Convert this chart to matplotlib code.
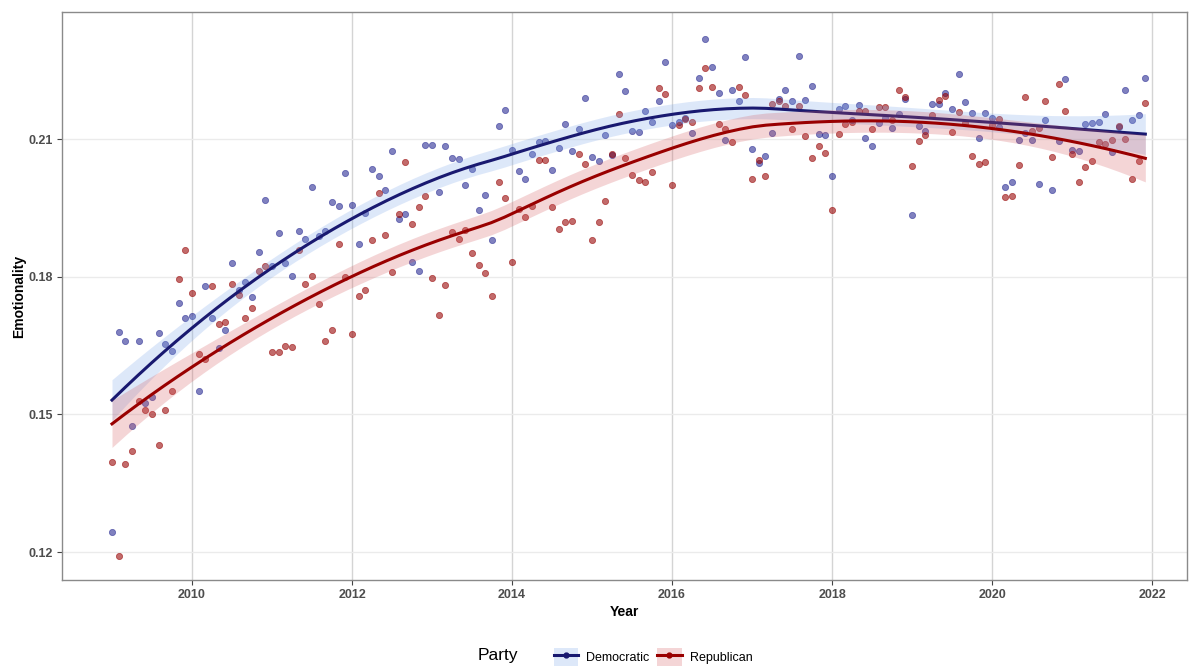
import numpy as np
import pandas as pd
import matplotlib
matplotlib.use("Agg")
import matplotlib.pyplot as plt
from matplotlib.patches import Patch
from matplotlib.lines import Line2D

plt.rcParams['font.family'] = ['Liberation Sans', 'DejaVu Sans']

# monthly emotionality scores, Jan 2009 .. Dec 2021 (one row per year)
dem_values = [
    0.1243, 0.1680, 0.1659, 0.1474, 0.1660, 0.1524, 0.1537, 0.1678, 0.1653, 0.1638, 0.1743, 0.1711,
    0.1715, 0.1551, 0.1780, 0.1710, 0.1645, 0.1684, 0.1830, 0.1771, 0.1788, 0.1756, 0.1853, 0.1968,
    0.1824, 0.1896, 0.1830, 0.1801, 0.1900, 0.1883, 0.1996, 0.1888, 0.1900, 0.1962, 0.1955, 0.2027,
    0.1956, 0.1871, 0.1938, 0.2035, 0.2020, 0.1990, 0.2073, 0.1926, 0.1937, 0.1833, 0.1813, 0.2088,
    0.2088, 0.1985, 0.2085, 0.2059, 0.2057, 0.1999, 0.2035, 0.1946, 0.1979, 0.1881, 0.2128, 0.2163,
    0.2077, 0.2030, 0.2013, 0.2067, 0.2094, 0.2096, 0.2032, 0.2080, 0.2132, 0.2075, 0.2121, 0.2190,
    0.2061, 0.2052, 0.2110, 0.2066, 0.2242, 0.2204, 0.2117, 0.2115, 0.2161, 0.2138, 0.2184, 0.2268,
    0.2131, 0.2138, 0.2147, 0.2113, 0.2234, 0.2319, 0.2258, 0.2201, 0.2099, 0.2208, 0.2182, 0.2279,
    0.2078, 0.2047, 0.2064, 0.2113, 0.2188, 0.2207, 0.2184, 0.2282, 0.2185, 0.2216, 0.2111, 0.2108,
    0.2019, 0.2165, 0.2172, 0.2141, 0.2174, 0.2102, 0.2085, 0.2136, 0.2146, 0.2125, 0.2154, 0.2188,
    0.1935, 0.2128, 0.2118, 0.2177, 0.2177, 0.2200, 0.2165, 0.2242, 0.2181, 0.2157, 0.2103, 0.2157,
    0.2146, 0.2127, 0.1995, 0.2007, 0.2098, 0.2114, 0.2097, 0.2003, 0.2142, 0.1989, 0.2096, 0.2230,
    0.2077, 0.2075, 0.2133, 0.2136, 0.2137, 0.2155, 0.2072, 0.2126, 0.2207, 0.2141, 0.2153, 0.2234,
]
rep_values = [
    0.1397, 0.1191, 0.1391, 0.1421, 0.1530, 0.1509, 0.1500, 0.1434, 0.1509, 0.1551, 0.1794, 0.1859,
    0.1765, 0.1631, 0.1620, 0.1780, 0.1696, 0.1701, 0.1784, 0.1761, 0.1709, 0.1732, 0.1812, 0.1824,
    0.1637, 0.1637, 0.1649, 0.1646, 0.1859, 0.1785, 0.1801, 0.1740, 0.1659, 0.1683, 0.1871, 0.1799,
    0.1676, 0.1758, 0.1772, 0.1880, 0.1982, 0.1890, 0.1810, 0.1937, 0.2049, 0.1915, 0.1953, 0.1976,
    0.1797, 0.1717, 0.1783, 0.1898, 0.1883, 0.1902, 0.1851, 0.1825, 0.1809, 0.1758, 0.2006, 0.1971,
    0.1833, 0.1948, 0.1931, 0.1955, 0.2054, 0.2055, 0.1951, 0.1904, 0.1919, 0.1921, 0.2068, 0.2045,
    0.1879, 0.1919, 0.1965, 0.2067, 0.2155, 0.2059, 0.2022, 0.2010, 0.2006, 0.2028, 0.2212, 0.2199,
    0.2001, 0.2131, 0.2144, 0.2137, 0.2212, 0.2254, 0.2213, 0.2132, 0.2123, 0.2094, 0.2213, 0.2197,
    0.2012, 0.2054, 0.2019, 0.2176, 0.2182, 0.2173, 0.2122, 0.2172, 0.2106, 0.2058, 0.2085, 0.2069,
    0.1945, 0.2112, 0.2133, 0.2137, 0.2161, 0.2161, 0.2122, 0.2169, 0.2169, 0.2141, 0.2207, 0.2192,
    0.2042, 0.2096, 0.2109, 0.2152, 0.2186, 0.2195, 0.2116, 0.2159, 0.2134, 0.2064, 0.2046, 0.2050,
    0.2131, 0.2143, 0.1973, 0.1975, 0.2044, 0.2191, 0.2118, 0.2125, 0.2182, 0.2061, 0.2220, 0.2162,
    0.2068, 0.2006, 0.2040, 0.2052, 0.2093, 0.2089, 0.2098, 0.2128, 0.2101, 0.2014, 0.2052, 0.2178,
]
parties = ["Democratic", "Republican"]
x_ticks = [2010, 2012, 2014, 2016, 2018, 2020, 2022]
y_ticks = [0.12, 0.15, 0.18, 0.21]

months = pd.date_range("2009-01-01", "2021-12-01", freq="MS")
t = (months.year + (months.month - 1) / 12).to_numpy(dtype=float)


def loess(x, y, grid, span=0.75):
    """Local quadratic fit with tricube weights, plus pointwise std errors."""
    n = len(x)
    q = int(np.floor(n * span))

    def rows(points):
        out = np.zeros((len(points), n))
        for i, x0 in enumerate(points):
            d = np.abs(x - x0)
            h = np.sort(d)[q - 1]
            w = np.clip(1 - (d / h) ** 3, 0, None) ** 3
            X = np.column_stack([np.ones(n), x - x0, (x - x0) ** 2])
            XtW = X.T * w
            out[i] = np.linalg.solve(XtW @ X, XtW)[0]
        return out

    L = rows(x)
    resid = y - L @ y
    M = np.eye(n) - L
    delta1 = np.trace(M.T @ M)
    sigma = np.sqrt(np.sum(resid ** 2) / delta1)
    Lg = rows(grid)
    fit = Lg @ y
    se = sigma * np.sqrt(np.sum(Lg ** 2, axis=1))
    return fit, se


fig, ax = plt.subplots(figsize=(11.98, 6.66), dpi=100)
fig.subplots_adjust(left=62 / 1198, right=1187 / 1198, top=1 - 12 / 666, bottom=1 - 580 / 666)

point_cols = {"Democratic": "#242791", "Republican": "#960000"}
line_cols = {"Democratic": "#191970", "Republican": "#990000"}
band_cols = {"Democratic": "#7aa5ea", "Republican": "#d45a5e"}

grid = np.linspace(t.min(), t.max(), 80)
series = {"Democratic": np.array(dem_values), "Republican": np.array(rep_values)}

for party in parties:
    c = point_cols[party]
    ax.scatter(t, series[party], s=20, facecolor=c, edgecolor=c, alpha=0.58,
               linewidths=0.6, zorder=2)

z = 3
for party in parties:
    fit, se = loess(t, series[party], grid)
    ax.fill_between(grid, fit - 1.976 * se, fit + 1.976 * se, color=band_cols[party],
                    alpha=0.25, lw=0, zorder=z)
    ax.plot(grid, fit, color=line_cols[party], lw=2.2, zorder=z + 1)
    z += 2

ax.set_xlim(2008.375, 2022.4375)
ax.set_ylim(0.1139, 0.2377)
ax.set_xticks(x_ticks)
ax.set_xticklabels([str(v) for v in x_ticks])
ax.set_yticks(y_ticks)
ax.set_yticklabels([f"{v:.2f}" for v in y_ticks])

for xv in x_ticks:
    ax.axvline(xv, color="#d4d4d4", lw=1.0, zorder=0)
for yv in y_ticks:
    ax.axhline(yv, color="#ebebeb", lw=1.0, zorder=0)

for sp in ax.spines.values():
    sp.set_color("#8a8a8a")
    sp.set_linewidth(1.0)
ax.tick_params(length=3.5, width=0.8, color="#444444", labelsize=9, labelcolor="#4d4d4d", pad=3)
for lab in ax.get_xticklabels() + ax.get_yticklabels():
    lab.set_fontweight("bold")

ax.set_xlabel("Year", fontsize=10, fontweight="bold", labelpad=3)
ax.set_ylabel("Emotionality", fontsize=10, fontweight="bold", labelpad=2)

handles = []
for party in parties:
    handles.append((Patch(facecolor=band_cols[party], alpha=0.25, edgecolor="none"),
                    Line2D([], [], color=line_cols[party], lw=2.2, marker="o", markersize=3.5)))
fig.text(0.399, 0.005, "Party", fontsize=12.5, ha="left", va="bottom")
fig.legend(handles, parties, loc="lower left", bbox_to_anchor=(0.453, -0.018), ncol=2,
           frameon=False, fontsize=9, handlelength=1.95, handleheight=1.95,
           handletextpad=0.65, columnspacing=0.6)

fig.savefig("out.png", dpi=100)
